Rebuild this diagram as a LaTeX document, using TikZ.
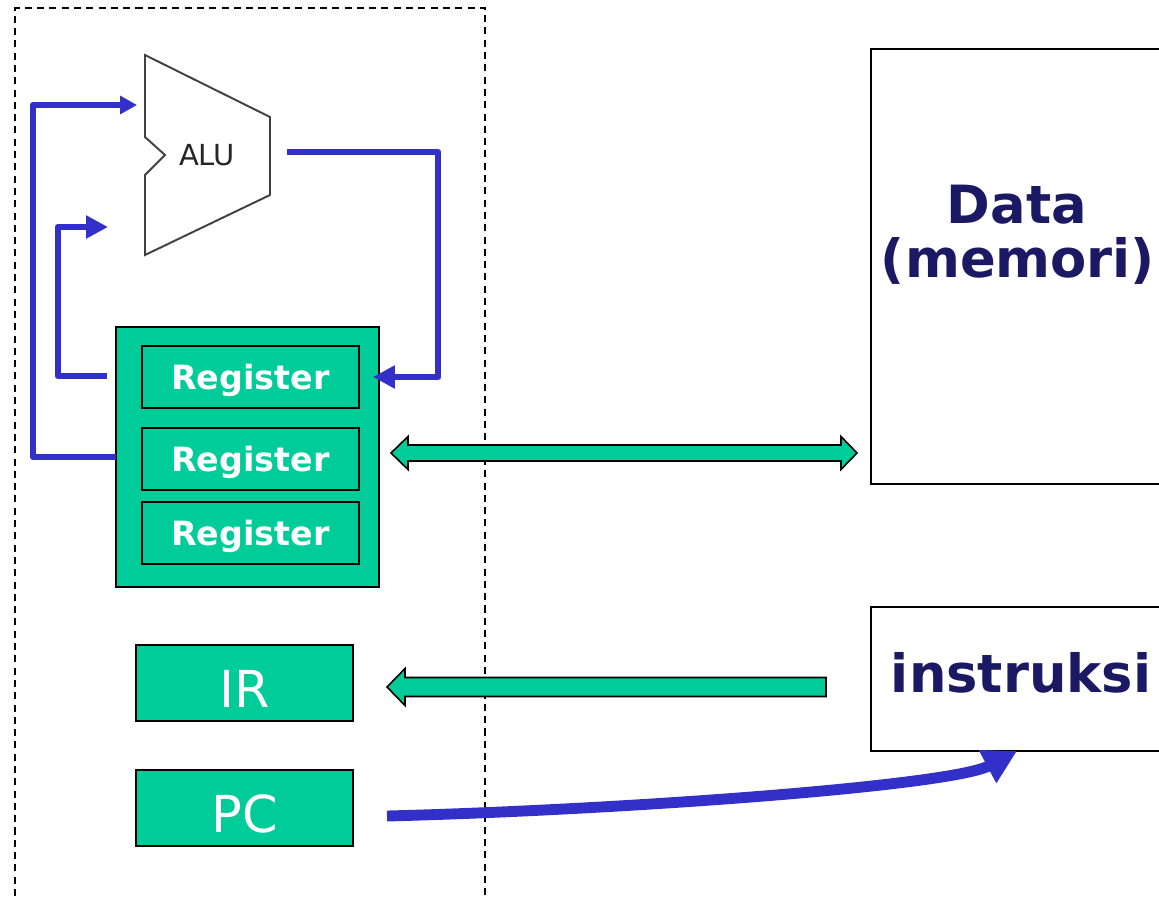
\documentclass[tikz,border=0pt]{standalone}
\usepackage{fontspec}
\setmainfont{DejaVu Sans}
\usetikzlibrary{arrows.meta, positioning, calc}
\definecolor{regfill}{RGB}{0,204,153}
\definecolor{busblue}{RGB}{50,48,200}
\definecolor{memtext}{RGB}{27,25,100}

\begin{document}
\begin{tikzpicture}[x=0.02cm, y=-0.02cm,
    regbox/.style={draw=black, line width=1.1pt, fill=regfill, minimum width=4.34cm, minimum height=1.24cm,
      text=white, font=\fontsize{19}{19}\selectfont\bfseries, text height=14.2pt, text depth=0pt},
    smallbox/.style={draw=black, line width=1pt, fill=regfill, minimum width=4.34cm, minimum height=1.52cm,
      text=white, font=\fontsize{29}{29}\selectfont, text height=28pt, text depth=0pt},
    mem/.style={draw=black, line width=1pt, inner sep=0pt, anchor=north west, minimum width=6.6cm},
    memlabel/.style={text=memtext, font=\fontsize{30}{30}\selectfont\bfseries, anchor=base},
    link/.style={draw=busblue, line width=3.8pt, line join=round, -{Triangle[length=12.5pt, width=12.5pt]}},
    block/.style={draw=black, line width=0.9pt, fill=regfill, line join=miter}]
  \useasboundingbox (0,0) rectangle (1159,896);

  % processor border
  \draw[dash pattern=on 4pt off 3pt, line width=0.9pt] (15,896) -- (15,8) -- (485,8) -- (485,896);

  % alu
  \draw[black!75, line width=1.1pt, line join=miter] (145,55) -- (270,117) -- (270,195) -- (145,255)
    -- (145,175) -- (165,155) -- (145,137) -- cycle;
  \node[text=black!85, font=\fontsize{16.5}{16.5}\selectfont] (alu) at (207,155) {ALU};
  \coordinate (aluA) at (137,105);
  \coordinate (aluB) at (108,227);
  \coordinate (aluout) at (287,152);

  % registers
  \node[draw=black, line width=0.9pt, fill=regfill, minimum width=5.26cm, minimum height=5.2cm] (regs) at (247.5,457) {};
  \node[regbox] (r1) at (250.5,377) {Register};
  \node[regbox] (r2) at (250.5,459) {Register};
  \node[regbox] (r3) at (250.5,533) {Register};
  \node[smallbox] (ir) at (244.5,683) {IR};
  \node[smallbox] (pc) at (244.5,808) {PC};

  % memory
  \node[mem, minimum height=8.7cm] (data) at (870,48) {};
  \node[memlabel] (datalabel) at (1017,223) {Data};
  \node[memlabel] (memlabel) at (1018,277) {(memori)};
  \node[mem, minimum height=2.88cm] (instr) at (870,606) {};
  \node[memlabel] (instrlabel) at (1021,692) {instruksi};

  % alu loops
  \coordinate (outA) at (116,457);
  \coordinate (outB) at (107,376);
  \coordinate (regin) at (373,377);
  \draw[link, -{Triangle[length=9.6pt, width=10pt]}] (outA) -- (33,457) -- (33,105) -- (aluA);
  \draw[link] (outB) -- (58,376) -- (58,227) -- (aluB);
  \draw[link] (aluout) -- (438,152) -- (438,377) -- (regin);

  % data bus
  \coordinate (busL) at (391,453);
  \coordinate (busR) at (857,453);
  \draw[block] (busL) -- ++(17,-16.5) -- ++(0,8.5) -- ($(busR)+(-16,-8)$) -- ++(0,-8.5) -- (busR)
    -- ++(-16,16.5) -- ++(0,-8.5) -- ($(busL)+(17,8)$) -- ++(0,8.5) -- cycle;

  % fetch
  \coordinate (irtail) at (826,687);
  \coordinate (irtip) at (387,687);
  \draw[block] (irtip) -- ++(18,-18.5) -- ++(0,9) -- ($(irtail)+(0,-9.5)$) -- ++(0,19)
    -- ($(irtip)+(18,9.5)$) -- ++(0,9) -- cycle;

  % address
  \coordinate (pcout) at (387,816);
  \coordinate (addr) at (1017,751);
  \draw[busblue, line width=6.2pt, -{Triangle[length=19pt, width=20pt]}]
    (pcout) .. controls (620,810) and (951,786) .. (addr);
\end{tikzpicture}
\end{document}
